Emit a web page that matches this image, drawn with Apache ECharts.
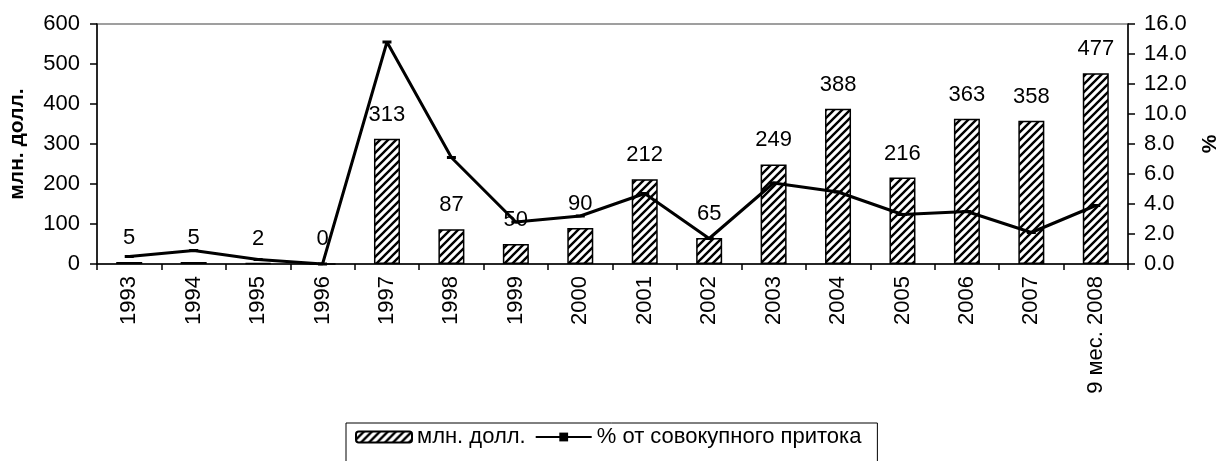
<!DOCTYPE html>
<html>
<head>
<meta charset="utf-8">
<script src="https://cdn.jsdelivr.net/npm/echarts@6/dist/echarts.min.js"></script>
<style>
  html, body { margin: 0; padding: 0; background: #fff; }
  #chart { width: 1218px; height: 461px; }
</style>
</head>
<body>
<div id="chart"></div>
<script>
// Chart data
const years = ['1993', '1994', '1995', '1996', '1997', '1998', '1999', '2000',
  '2001', '2002', '2003', '2004', '2005', '2006', '2007', '9 мес. 2008'];
const millionUsd = [5, 5, 2, 0, 313, 87, 50, 90, 212, 65, 249, 388, 216, 363, 358, 477];
const shareOfInflow = [0.5, 0.9, 0.3, 0, 14.8, 7.1, 2.8, 3.2, 4.7, 1.7, 5.4, 4.8, 3.3, 3.5, 2.1, 3.9];

const barName = 'млн. долл.';
const lineName = '% от совокупного притока';
const FONT = '"Liberation Sans", Arial, sans-serif';

/** Small tile with "/" stripes, used as a repeating bar fill. */
function makeHatch() {
  const c = document.createElement('canvas');
  c.width = 8;
  c.height = 8;
  const ctx = c.getContext('2d');
  ctx.fillStyle = '#fff';
  ctx.fillRect(0, 0, 8, 8);
  ctx.strokeStyle = '#000';
  ctx.lineWidth = 2.4;
  ctx.beginPath();
  ctx.moveTo(-2, 10); ctx.lineTo(10, -2);
  ctx.moveTo(-2, 2); ctx.lineTo(2, -2);
  ctx.moveTo(6, 10); ctx.lineTo(10, 6);
  ctx.stroke();
  return c;
}

const hatchFill = { image: makeHatch(), repeat: 'repeat' };
const axisText = { color: '#000', fontSize: 22, fontFamily: FONT };
const titleText = { color: '#000', fontSize: 21, fontWeight: 'bold', fontFamily: FONT };

const chart = echarts.init(document.getElementById('chart'), null, { renderer: 'canvas' });

chart.setOption({
  animation: false,
  backgroundColor: '#fff',
  textStyle: { fontFamily: FONT },
  grid: {
    left: 97, right: 90, top: 24, bottom: 197,
    outerBoundsMode: 'none',
    containLabel: false,
    show: true, borderColor: '#808080', borderWidth: 1.5, backgroundColor: 'transparent'
  },
  legend: {
    left: 346, top: 423,
    padding: [3, 16, 30, 9],
    borderColor: '#000', borderWidth: 1,
    itemWidth: 56, itemHeight: 11, itemGap: 9,
    textStyle: { color: '#000', fontSize: 22, fontFamily: FONT },
    data: [barName, lineName]
  },
  xAxis: {
    type: 'category',
    data: years,
    boundaryGap: true,
    axisLine: { lineStyle: { color: '#000', width: 1.5 } },
    axisTick: { show: true, length: 6, lineStyle: { color: '#000', width: 1.5 } },
    axisLabel: Object.assign({ rotate: 90, margin: 12, interval: 0 }, axisText)
  },
  yAxis: [
    {
      type: 'value', min: 0, max: 600, interval: 100,
      name: barName, nameLocation: 'middle', nameGap: 69,
      nameTextStyle: titleText,
      axisLine: { show: true, lineStyle: { color: '#000', width: 1.5 } },
      axisTick: { show: true, length: 7, lineStyle: { color: '#000', width: 1.5 } },
      axisLabel: Object.assign({ margin: 17 }, axisText),
      splitLine: { show: false }
    },
    {
      type: 'value', min: 0, max: 16, interval: 2,
      name: '%', nameLocation: 'middle', nameGap: 72,
      nameTextStyle: titleText,
      axisLine: { show: true, lineStyle: { color: '#000', width: 1.5 } },
      axisTick: { show: true, length: 7, lineStyle: { color: '#000', width: 1.5 } },
      axisLabel: Object.assign({ margin: 16, formatter: v => v.toFixed(1) }, axisText),
      splitLine: { show: false }
    }
  ],
  series: [
    {
      name: barName,
      type: 'bar',
      yAxisIndex: 0,
      data: millionUsd,
      barWidth: 26,
      itemStyle: { color: hatchFill, borderColor: '#000', borderWidth: 1.5 },
      label: {
        show: true, position: 'top', distance: 13,
        color: '#000', fontSize: 22, fontFamily: FONT
      }
    },
    {
      name: lineName,
      type: 'line',
      yAxisIndex: 1,
      data: shareOfInflow,
      symbol: 'rect',
      symbolSize: [9, 3],
      showAllSymbol: true,
      lineStyle: { color: '#000', width: 3 },
      itemStyle: { color: '#000' },
      z: 3
    }
  ]
});
</script>
</body>
</html>
